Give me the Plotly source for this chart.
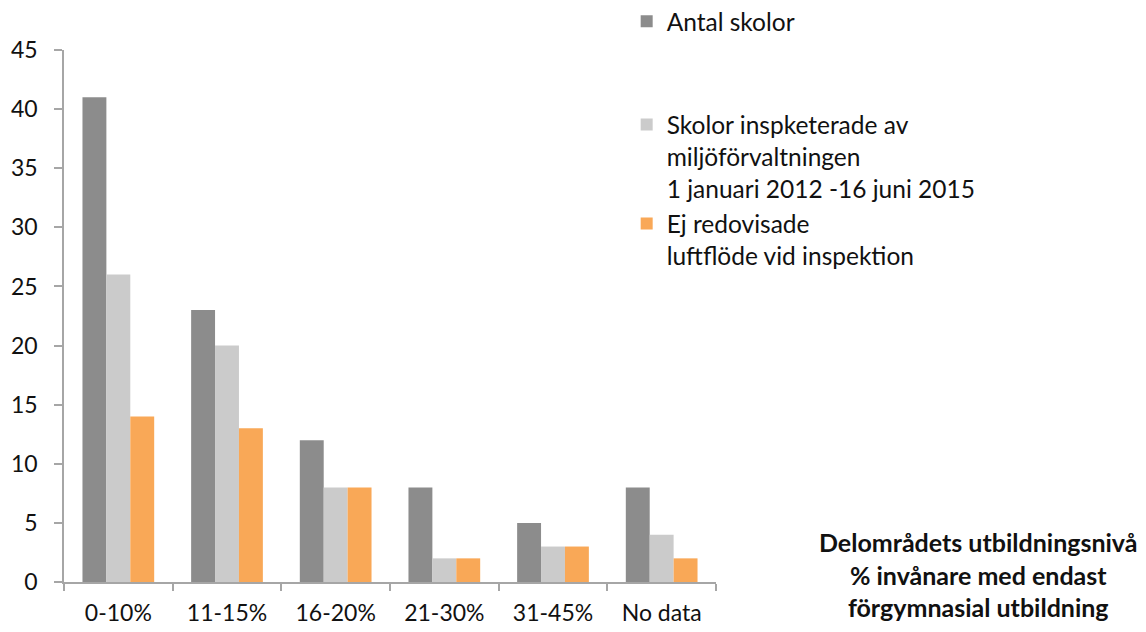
import plotly.graph_objects as go

categories = ["0-10%", "11-15%", "16-20%", "21-30%", "31-45%", "No data"]
antal_skolor = [41, 23, 12, 8, 5, 8]
inspekterade = [26, 20, 8, 2, 3, 4]
ej_redovisade = [14, 13, 8, 2, 3, 2]

name1 = "Antal skolor"
name2 = "Skolor inspketerade av<br>miljöförvaltningen<br>1 januari 2012 -16 juni 2015"
name3 = "Ej redovisade<br>luftflöde vid inspektion"

FONT = "Lato, 'Open Sans', sans-serif"
AXIS_COLOR = "#a6a6a6"
FS = 23
LFS = 24.5

fig = go.Figure()
fig.add_trace(go.Bar(x=categories, y=antal_skolor, name=name1,
                     marker=dict(color="#8c8c8c", line=dict(width=0)), legend="legend"))
fig.add_trace(go.Bar(x=categories, y=inspekterade, name=name2,
                     marker=dict(color="#cbcbcb", line=dict(width=0)), legend="legend2"))
fig.add_trace(go.Bar(x=categories, y=ej_redovisade, name=name3,
                     marker=dict(color="#f9a857", line=dict(width=0)), legend="legend3"))

legend_common = dict(font=dict(family=FONT, size=LFS, color="#111111"),
                     valign="top", bgcolor="rgba(0,0,0,0)", xanchor="left",
                     yanchor="top", itemclick=False)

fig.update_layout(
    width=1146, height=632,
    margin=dict(l=64, r=430, t=50, b=50, autoexpand=False),
    paper_bgcolor="white", plot_bgcolor="white",
    barmode="group", bargap=0.34, bargroupgap=0,
    font=dict(family=FONT, size=FS, color="#111111"),
    showlegend=True,
    legend=dict(x=0.863, y=1.096, **legend_common),
    legend2=dict(x=0.863, y=0.902, **legend_common),
    legend3=dict(x=0.863, y=0.716, **legend_common),
    xaxis=dict(showline=True, linecolor=AXIS_COLOR, linewidth=1.5,
               ticks="outside", tickson="boundaries", ticklen=7,
               tickcolor=AXIS_COLOR, tickwidth=1.5, showgrid=False,
               ticklabelstandoff=10,
               tickfont=dict(family=FONT, size=FS, color="#111111")),
    yaxis=dict(range=[0, 45], dtick=5, showline=True, linecolor=AXIS_COLOR,
               linewidth=1.5, ticks="outside", ticklen=8, tickcolor=AXIS_COLOR,
               tickwidth=1.5, showgrid=False, zeroline=False,
               ticklabelstandoff=12,
               tickfont=dict(family=FONT, size=FS, color="#111111")),
    annotations=[dict(
        text="<b>Delområdets utbildningsnivå<br>% invånare med endast<br>förgymnasial utbildning</b>",
        xref="paper", yref="paper", x=1.402, y=0.015, xanchor="center", yanchor="middle",
        showarrow=False, align="center",
        font=dict(family=FONT, size=25, color="#111111"))],
)

fig.write_html("out.html", config={"displayModeBar": False},
               post_script="document.body.style.margin='0';document.body.style.overflow='hidden';")
